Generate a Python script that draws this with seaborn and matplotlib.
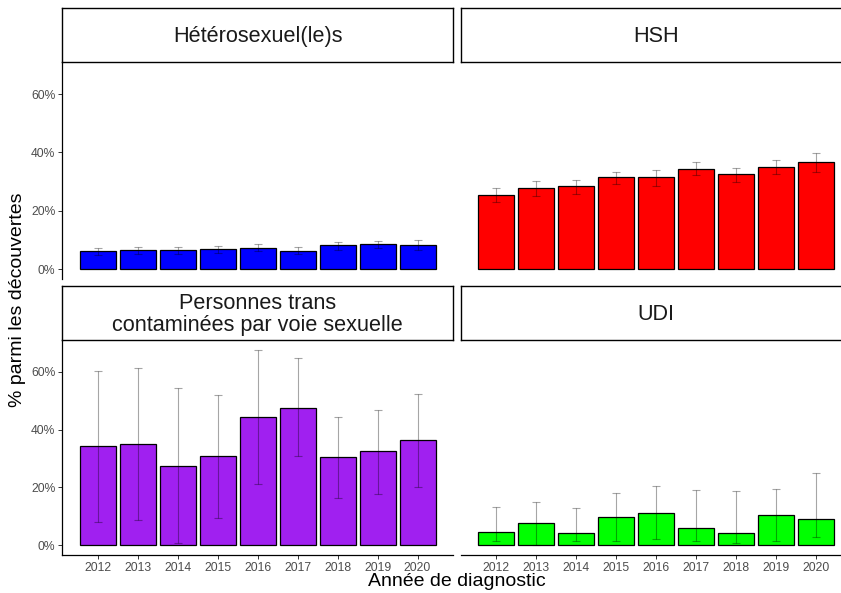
import numpy as np
import pandas as pd
import matplotlib
matplotlib.use("Agg")
import matplotlib.pyplot as plt
import seaborn as sns

years = [2012, 2013, 2014, 2015, 2016, 2017, 2018, 2019, 2020]
groups = ["Hétérosexuel(le)s", "HSH",
          "Personnes trans\ncontaminées par voie sexuelle", "UDI"]
colors = ["#0000FF", "#FF0000", "#A020F0", "#00FF00"]

pct_hetero = [6.1, 6.5, 6.6, 6.9, 7.3, 6.4, 8.3, 8.5, 8.4]
low_hetero = [4.8, 5.2, 5.2, 5.5, 6.1, 5.2, 6.6, 7.2, 6.5]
up_hetero = [7.2, 7.6, 7.6, 7.9, 8.6, 7.6, 9.3, 9.6, 10.0]

pct_hsh = [25.5, 27.7, 28.4, 31.5, 31.5, 34.4, 32.7, 34.9, 36.7]
low_hsh = [23.1, 25.0, 25.9, 29.3, 28.6, 32.4, 29.9, 32.7, 33.4]
up_hsh = [27.9, 30.3, 30.6, 33.4, 33.9, 36.8, 34.8, 37.4, 39.9]

pct_trans = [34.3, 35.0, 27.5, 30.7, 44.4, 47.6, 30.4, 32.6, 36.5]
low_trans = [8.2, 8.8, 0.6, 9.5, 21.2, 30.9, 16.4, 17.8, 20.2]
up_trans = [60.1, 61.2, 54.3, 51.9, 67.6, 64.7, 44.2, 46.7, 52.2]

pct_udi = [4.5, 7.6, 4.2, 9.9, 11.1, 5.8, 4.4, 10.3, 9.1]
low_udi = [1.3, 0.1, 1.3, 1.3, 2.0, 1.6, 0.9, 1.6, 2.9]
up_udi = [13.3, 14.8, 12.9, 18.2, 20.6, 19.2, 18.8, 19.5, 25.0]

yticks = [0, 20, 40, 60]
ytick_labels = ["0%", "20%", "40%", "60%"]

series = [
    (pct_hetero, low_hetero, up_hetero),
    (pct_hsh, low_hsh, up_hsh),
    (pct_trans, low_trans, up_trans),
    (pct_udi, low_udi, up_udi),
]
frames = []
for g, (p, lo, up) in zip(groups, series):
    frames.append(pd.DataFrame({"annee": years, "pct": p, "low": lo, "up": up, "groupe": g}))
df = pd.concat(frames, ignore_index=True)

sns.set_theme(style="white")
plt.rcParams["font.family"] = ["Liberation Sans", "DejaVu Sans"]

W, H = 841, 593
fig = plt.figure(figsize=(W / 100, H / 100), dpi=100)

def box(x0, y0, x1, y1):
    return [x0 / W, 1 - y1 / H, (x1 - x0) / W, (y1 - y0) / H]

col_x = [(62.3, 453.3), (460.7, 851.7)]
row_panel = [(62.0, 279.1), (340.0, 555.0)]
row_strip = [(8.0, 62.0), (286.0, 340.0)]

ymax = df["up"].max()
ylim = (-0.05 * ymax, 1.05 * ymax)
xmin_d = years[0] - 0.45
xmax_d = years[-1] + 0.45
span = xmax_d - xmin_d
xlim = (xmin_d - 0.05 * span, xmax_d + 0.05 * span)

for i, g in enumerate(groups):
    r, c = divmod(i, 2)
    x0, x1 = col_x[c]
    py0, py1 = row_panel[r]
    sy0, sy1 = row_strip[r]
    ax = fig.add_axes(box(x0, py0, x1, py1))
    sub = df[df["groupe"] == g]
    sns.barplot(data=sub, x="annee", y="pct", native_scale=True, width=0.9,
                color=colors[i], saturation=1, edgecolor="black", linewidth=0.9,
                errorbar=None, ax=ax)
    ax.errorbar(sub["annee"], sub["pct"],
                yerr=[sub["pct"] - sub["low"], sub["up"] - sub["pct"]],
                fmt="none", ecolor=(0, 0, 0, 0.35), elinewidth=0.8,
                capsize=2.9, capthick=0.8)
    ax.set_xlim(*xlim)
    ax.set_ylim(*ylim)
    ax.set_xlabel("")
    ax.set_ylabel("")
    ax.set_facecolor("white")
    for s in ax.spines.values():
        s.set_visible(False)
    ax.tick_params(axis="both", which="both", labelsize=8.7, labelcolor="#4D4D4D",
                   color="#333333", length=3, width=0.7, pad=2)
    if c == 0:
        ax.spines["left"].set_visible(True)
        ax.spines["left"].set_color("black")
        ax.spines["left"].set_linewidth(0.9)
        ax.set_yticks(yticks)
        ax.set_yticklabels(ytick_labels)
        ax.tick_params(axis="y", left=True)
    else:
        ax.set_yticks([])
    if r == 1:
        ax.spines["bottom"].set_visible(True)
        ax.spines["bottom"].set_color("black")
        ax.spines["bottom"].set_linewidth(0.9)
        ax.set_xticks(years)
        ax.set_xticklabels([str(y) for y in years])
        ax.tick_params(axis="x", bottom=True)
    else:
        ax.set_xticks([])

    sax = fig.add_axes(box(x0, sy0, x1, sy1))
    sax.set_xticks([])
    sax.set_yticks([])
    sax.set_facecolor("white")
    for s in sax.spines.values():
        s.set_visible(True)
        s.set_color("black")
        s.set_linewidth(1.0)
    sax.text(0.5, 0.47, g, ha="center", va="center", fontsize=15.6,
             color="#1A1A1A", linespacing=1.1, transform=sax.transAxes)

fig.text(457 / W, 1 - 581 / H, "Année de diagnostic", ha="center", va="center",
         fontsize=14, color="black")
fig.text(18 / W, 1 - 300 / H, "% parmi les découvertes", ha="center", va="center",
         rotation=90, fontsize=14, color="black")

fig.savefig("out.png", dpi=100, facecolor="white")
